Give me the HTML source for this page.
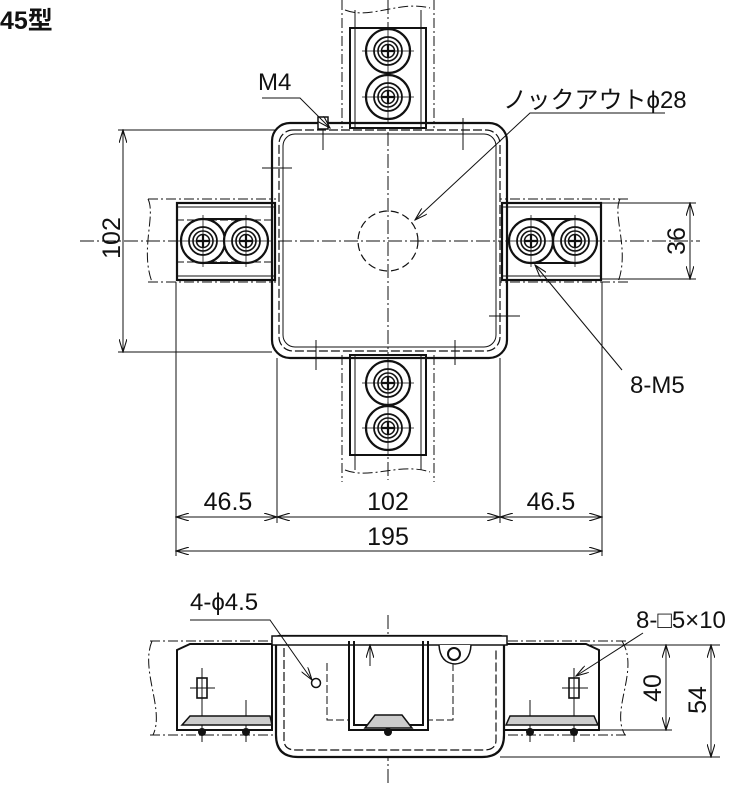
<!DOCTYPE html>
<html><head><meta charset="utf-8"><style>
html,body{margin:0;padding:0;background:#fff}
svg{display:block}
text{font-family:"Liberation Sans","Noto Sans CJK JP",sans-serif;fill:#111}
</style></head><body>
<svg width="747" height="800" viewBox="0 0 747 800" xmlns="http://www.w3.org/2000/svg">
<defs>
<marker id="a" viewBox="0 0 14 8" refX="13" refY="4" markerWidth="14" markerHeight="8" orient="auto-start-reverse" markerUnits="userSpaceOnUse">
<path d="M0,0 L13,4 L0,8" fill="none" stroke="#111" stroke-width="1.1"/></marker>
<g id="scr">
<circle r="22" fill="#fff" stroke="#111" stroke-width="2.2"/>
<circle r="14" fill="none" stroke="#111" stroke-width="1.8"/>
<circle r="10" fill="none" stroke="#111" stroke-width="1.6"/>
<circle r="6.5" fill="none" stroke="#111" stroke-width="1.5"/>
<path d="M-6,0H6M0,-6V6" stroke="#111" stroke-width="2.2"/>
<path d="M-26,0H26M0,-26V26" stroke="#111" stroke-width="0.8"/>
</g>
</defs>
<text x="0" y="29" font-size="25" font-weight="bold">45型</text>

<g fill="none" stroke="#111">
<path d="M388,0V480 M80,241H700" stroke-width="1" stroke-dasharray="14,3,2,3"/>

<path d="M148,199H276 M148,282H276 M148,199C156,215 140,250 152,282" stroke-width="1" stroke-dasharray="10,3,2,3"/>
<path d="M628,199H500 M628,282H500 M620,199C612,215 630,250 618,282" stroke-width="1" stroke-dasharray="10,3,2,3"/>
<path d="M342,0V128 M434,0V128 M342,355V482 M434,355V482" stroke-width="1" stroke-dasharray="10,3,2,3"/>
<path d="M345,10C370,20 400,0 430,8 M345,470C370,480 400,462 430,472" stroke-width="1" stroke-dasharray="10,3,2,3"/>

<rect x="177" y="203" width="98" height="77" stroke-width="2.2" fill="#fff"/>
<path d="M177,207H275 M177,276H275" stroke-width="1"/>
<path d="M176,220H276 M176,262H276" stroke-width="1" stroke-dasharray="8,3"/>
<path d="M203,219H246 M203,263H246" stroke-width="2"/>
<use href="#scr" x="203" y="241"/><use href="#scr" x="246" y="241"/>
<rect x="502" y="203" width="99" height="77" stroke-width="2.2" fill="#fff"/>
<path d="M502,207H601 M502,276H601" stroke-width="1"/>
<path d="M531,219H575 M531,263H575" stroke-width="2"/>
<use href="#scr" x="531" y="241"/><use href="#scr" x="575" y="241"/>
<rect x="350" y="28" width="76" height="100" stroke-width="2" fill="#fff"/>
<path d="M355,10V128 M421,10V128" stroke-width="1"/>
<use href="#scr" x="388" y="51"/><use href="#scr" x="388" y="97"/>
<rect x="350" y="355" width="76" height="100" stroke-width="2" fill="#fff"/>
<path d="M355,355V470 M421,355V470" stroke-width="1"/>
<use href="#scr" x="388" y="383"/><use href="#scr" x="388" y="428"/>

<rect x="272" y="123" width="235" height="235" rx="18" stroke-width="2.2" fill="none"/>
<rect x="279" y="130" width="221" height="221" rx="14" stroke-width="1.2" stroke-dasharray="9,3"/>
<rect x="283" y="134" width="213" height="213" rx="12" stroke-width="1"/>
<circle cx="388" cy="241" r="30" stroke-width="1.2" stroke-dasharray="8,4"/>
<path d="M323,118V150 M463,118V150 M262,168H292 M489,316H520 M316,340V370 M455,340V365" stroke-width="1"/>
<rect x="318" y="117" width="10" height="12" stroke-width="1.5" fill="#fff"/>

<path d="M262,98H300L330,128" stroke-width="1" marker-end="url(#a)"/>
<path d="M665,113H530L415,220" stroke-width="1" marker-end="url(#a)"/>
<path d="M622,370L535,265" stroke-width="1" marker-end="url(#a)"/>

<path d="M118,130H275 M118,352H272" stroke-width="1"/>
<path d="M123,130V352" stroke-width="1" marker-start="url(#a)" marker-end="url(#a)"/>
<path d="M600,203H696 M600,279H696" stroke-width="1"/>
<path d="M690,203V279" stroke-width="1" marker-start="url(#a)" marker-end="url(#a)"/>
<path d="M176,282V556 M602,282V556 M277,358V523 M500,358V523" stroke-width="1"/>
<path d="M176,517H277" stroke-width="1" marker-start="url(#a)" marker-end="url(#a)"/>
<path d="M277,517H500" stroke-width="1" marker-start="url(#a)" marker-end="url(#a)"/>
<path d="M500,517H602" stroke-width="1" marker-start="url(#a)" marker-end="url(#a)"/>
<path d="M176,551H602" stroke-width="1" marker-start="url(#a)" marker-end="url(#a)"/>

<!-- SIDE VIEW -->
<path d="M388,615V785" stroke-width="1" stroke-dasharray="14,3,2,3"/>
<path d="M150,641H276 M150,735H276 M152,641C140,670 165,710 153,735 M626,641H500 M626,735H500 M622,641C640,670 610,710 625,735" stroke-width="1" stroke-dasharray="10,3,2,3"/>
<path d="M177,650L190,644H272V730H177Z" stroke-width="2" fill="#fff"/>
<path d="M599,650L586,644H504V730H599Z" stroke-width="2" fill="#fff"/>
<rect x="197" y="678" width="10" height="20" stroke-width="1.6"/>
<rect x="569" y="678" width="10" height="20" stroke-width="1.6"/>
<path d="M202,668V742 M190,688H215 M246,700V742 M574,668V742 M562,688H588 M530,700V742" stroke-width="1"/>
<path d="M182,725L190,716H270L272,725Z M506,725L510,716H594L598,725Z" stroke-width="1.5" fill="#ccc"/>
<circle cx="202" cy="732" r="4" fill="#111" stroke="none"/><circle cx="246" cy="732" r="4" fill="#111" stroke="none"/>
<circle cx="530" cy="732" r="4" fill="#111" stroke="none"/><circle cx="574" cy="732" r="4" fill="#111" stroke="none"/>
<path d="M279,636H500Q504,636 504,643V735Q504,757 482,757H298Q276,757 276,735V643Q276,636 279,636Z" stroke-width="2.2" fill="#fff"/>
<path d="M272,636H507V645H272Z" stroke-width="1.5" fill="#fff"/>
<path d="M284,648V740Q284,750 296,750H484Q496,750 496,740V648" stroke-width="1.2" stroke-dasharray="9,3"/>
<path d="M349,641V730H428V641 M354,641V725H423V641" stroke-width="2"/>
<path d="M327,663V720H349 M453,663V720H428" stroke-width="1" stroke-dasharray="8,3"/>
<path d="M365,728L375,715H402L412,728Z" stroke-width="1.5" fill="#ccc"/>
<circle cx="388" cy="732" r="4" fill="#111" stroke="none"/>
<circle cx="316" cy="683" r="4.5" stroke-width="1.5"/>
<path d="M439,645Q440,663 455,664Q470,663 471,645" stroke-width="1.5" fill="#fff"/>
<circle cx="454" cy="654" r="6" stroke-width="2"/>
<path d="M370,666V645" stroke-width="1" marker-end="url(#a)"/>
<path d="M190,620H270L312,680" stroke-width="1" marker-end="url(#a)"/>
<path d="M643,633L576,676" stroke-width="1" marker-end="url(#a)"/>
<path d="M590,645H720 M505,730H672 M500,757H720" stroke-width="1"/>
<path d="M666,645V730" stroke-width="1" marker-start="url(#a)" marker-end="url(#a)"/>
<path d="M711,645V757" stroke-width="1" marker-start="url(#a)" marker-end="url(#a)"/>
</g>

<text x="258" y="90" font-size="24">M4</text>
<text x="503" y="108" font-size="24">ノックアウトϕ28</text>
<text x="630" y="393" font-size="24">8-M5</text>
<text x="190" y="610" font-size="24">4-ϕ4.5</text>
<text x="636" y="628" font-size="24">8-□5×10</text>
<text x="228" y="510" font-size="25" text-anchor="middle">46.5</text>
<text x="388" y="510" font-size="25" text-anchor="middle">102</text>
<text x="551" y="510" font-size="25" text-anchor="middle">46.5</text>
<text x="388" y="545" font-size="25" text-anchor="middle">195</text>
<text transform="translate(120,238) rotate(-90)" font-size="25" text-anchor="middle">102</text>
<text transform="translate(685,241) rotate(-90)" font-size="25" text-anchor="middle">36</text>
<text transform="translate(661,688) rotate(-90)" font-size="25" text-anchor="middle">40</text>
<text transform="translate(706,700) rotate(-90)" font-size="25" text-anchor="middle">54</text>
</svg>
</body></html>
